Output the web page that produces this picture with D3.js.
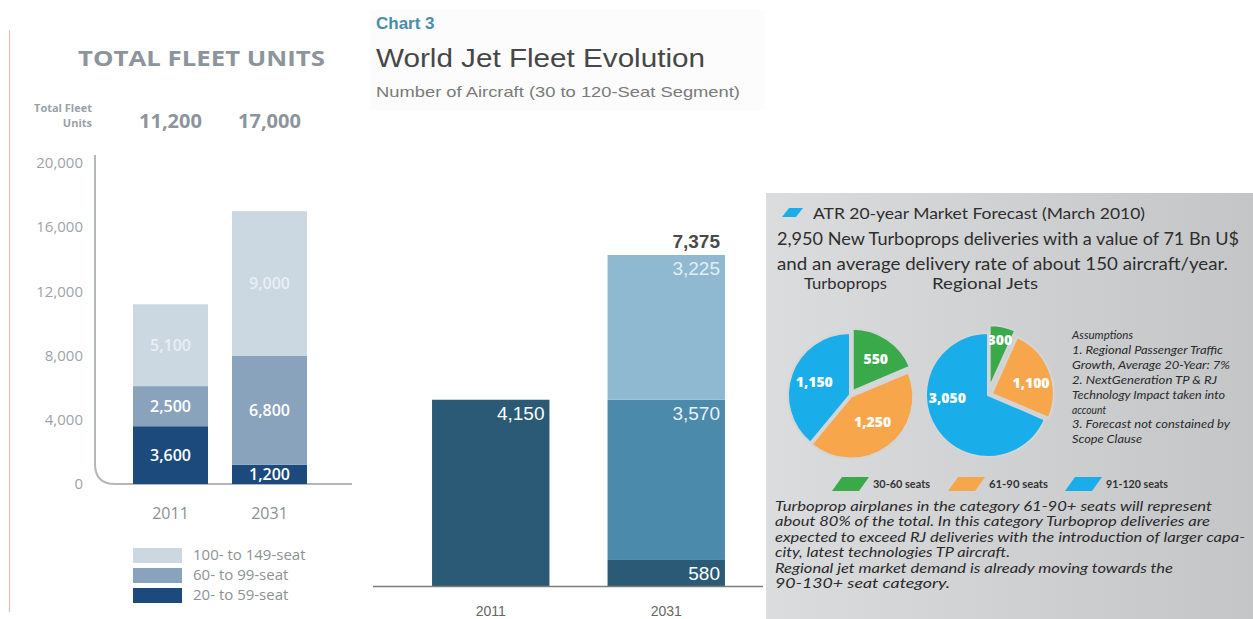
<!DOCTYPE html>
<html><head><meta charset="utf-8">
<script src="https://cdn.jsdelivr.net/npm/d3@7"></script>
<style>html,body{margin:0;padding:0;background:#fff;overflow:hidden}svg{display:block}</style>
</head><body><svg id="c" width="1253" height="619"></svg>
<script>
// ---------- Panel 1: Total fleet units ----------
const fleetYears = ["2011", "2031"];
const fleetSeries = ["20- to 59-seat", "60- to 99-seat", "100- to 149-seat"];
const fleetSmall = [3600, 1200];
const fleetMid = [2500, 6800];
const fleetLarge = [5100, 9000];
const fleetTotals = [11200, 17000];
const fleetTicks = [0, 4000, 8000, 12000, 16000, 20000];

// ---------- Panel 2: World jet fleet evolution ----------
const jetYears = ["2011", "2031"];
const jetSeries = ["lower", "mid", "upper"];
const jetLower = [4150, 580];
const jetMid = [0, 3570];
const jetUpper = [0, 3225];
const jetTotals = [null, 7375];

// ---------- Panel 3: ATR forecast pies ----------
const seatCats = ["30-60 seats", "61-90 seats", "91-120 seats"];
const turbopropValues = [550, 1250, 1150];
const regionalJetValues = [300, 1100, 3050];

const fmt = d3.format(",");
const svg = d3.select("#c");

function txt(g, x, y, s, o) {
  o = o || {};
  const t = g.append("text").attr("x", x).attr("y", y).text(s)
    .attr("font-family", o.family || "Liberation Sans, Arial, sans-serif")
    .attr("font-size", o.size || 14)
    .attr("fill", o.fill || "#333")
    .attr("text-anchor", o.anchor || "start");
  if (o.weight) t.attr("font-weight", o.weight);
  if (o.style) t.attr("font-style", o.style);
  if (o.len) t.attr("textLength", o.len).attr("lengthAdjust", "spacingAndGlyphs");
  if (o.dy) t.attr("dy", o.dy);
  return t;
}

// ================= PANEL 1 =================
(function () {
  const g = svg.append("g");
  const F = "Open Sans, Lato, sans-serif";
  g.append("line").attr("x1", 9.5).attr("x2", 9.5).attr("y1", 30).attr("y2", 612)
    .attr("stroke", "#efb9b6").attr("stroke-width", 1.2);
  txt(g, 78, 66, "TOTAL FLEET UNITS", {family: F, size: 22, weight: 700, fill: "#8d959c", len: 247});
  txt(g, 92, 112, "Total Fleet", {family: F, size: 11, weight: 700, fill: "#9aa1a7", anchor: "end"});
  txt(g, 92, 127, "Units", {family: F, size: 11, weight: 700, fill: "#9aa1a7", anchor: "end"});

  const y = d3.scaleLinear().domain([0, 20000]).range([484, 163]);
  const x = d3.scaleBand().domain(fleetYears).range([121, 319]).paddingInner(0.2424).paddingOuter(0.1212);

  // axis with rounded corner
  const p = d3.path();
  p.moveTo(95, 155);
  p.lineTo(95, y(0) - 20);
  p.quadraticCurveTo(95, y(0), 115, y(0));
  p.lineTo(352, y(0));
  g.append("path").attr("d", p.toString()).attr("fill", "none").attr("stroke", "#b4b8bc").attr("stroke-width", 2);

  g.selectAll(".tk").data(fleetTicks).join("text")
    .attr("x", 83).attr("y", d => y(d)).attr("dy", "0.35em")
    .attr("text-anchor", "end").attr("font-family", F).attr("font-size", 15)
    .attr("fill", "#9ea3a8").text(d => fmt(d));

  const table = fleetYears.map((yr, i) => ({year: yr, s: fleetSmall[i], m: fleetMid[i], l: fleetLarge[i]}));
  const keys = ["s", "m", "l"];
  const colors = {s: "#1c4a7c", m: "#8aa3bd", l: "#cbd8e2"};
  const labelColors = {s: "#ffffff", m: "#ffffff", l: "#e9eef3"};
  const stack = d3.stack().keys(keys)(table);
  stack.forEach(layer => {
    g.selectAll(null).data(layer).join("rect")
      .attr("x", d => x(d.data.year)).attr("width", x.bandwidth())
      .attr("y", d => y(d[1])).attr("height", d => y(d[0]) - y(d[1]))
      .attr("fill", colors[layer.key]);
    g.selectAll(null).data(layer).join("text")
      .attr("x", d => x(d.data.year) + x.bandwidth() / 2)
      .attr("y", d => (y(d[0]) + y(d[1])) / 2).attr("dy", "0.36em")
      .attr("text-anchor", "middle").attr("font-family", F).attr("font-size", 16).attr("font-weight", 600)
      .attr("fill", labelColors[layer.key]).text(d => fmt(d[1] - d[0]));
  });

  g.selectAll(".tot").data(fleetYears).join("text")
    .attr("x", d => x(d) + x.bandwidth() / 2).attr("y", 128).attr("text-anchor", "middle")
    .attr("font-family", F).attr("font-size", 20).attr("font-weight", 700).attr("fill", "#8d959c")
    .text((d, i) => fmt(fleetTotals[i]));
  g.selectAll(".xl").data(fleetYears).join("text")
    .attr("x", d => x(d) + x.bandwidth() / 2).attr("y", 519).attr("text-anchor", "middle")
    .attr("font-family", F).attr("font-size", 16).attr("fill", "#8c8f93").text(d => d);

  const leg = [...fleetSeries].reverse();
  const legKeys = ["l", "m", "s"];
  leg.forEach((name, i) => {
    g.append("rect").attr("x", 133).attr("y", 548 + i * 20).attr("width", 49).attr("height", 15).attr("fill", colors[legKeys[i]]);
    txt(g, 193, 560 + i * 20, name, {family: F, size: 15, fill: "#8e9195"});
  });
})();

// ================= PANEL 2 =================
(function () {
  const g = svg.append("g");
  const F = "Liberation Sans, Arial, sans-serif";
  g.append("rect").attr("x", 370).attr("y", 10).attr("width", 395).attr("height", 100).attr("fill", "#fcfcfc");
  txt(g, 376, 29, "Chart 3", {family: F, size: 17, weight: 700, fill: "#4b8cab"});
  txt(g, 376, 67, "World Jet Fleet Evolution", {family: F, size: 26, fill: "#474747", len: 329});
  txt(g, 376, 97, "Number of Aircraft (30 to 120-Seat Segment)", {family: F, size: 15, fill: "#7a7a7a", len: 364});

  const y = d3.scaleLinear().domain([0, 7375]).range([586, 255]);
  const x = d3.scaleBand().domain(jetYears).range([403, 754]).paddingInner(0.331).paddingOuter(0.1655);
  const table = jetYears.map((yr, i) => ({year: yr, lower: jetLower[i], mid: jetMid[i], upper: jetUpper[i]}));
  const colors = {lower: "#2a5a75", mid: "#4b8aab", upper: "#8fb9d0"};
  const labelColors = {lower: "#ffffff", mid: "#e8f0f4", upper: "#e3edf3"};
  const stack = d3.stack().keys(jetSeries)(table);
  stack.forEach(layer => {
    const vis = layer.filter(d => d[1] - d[0] > 0);
    g.selectAll(null).data(vis).join("rect")
      .attr("x", d => x(d.data.year)).attr("width", x.bandwidth())
      .attr("y", d => y(d[1])).attr("height", d => y(d[0]) - y(d[1]))
      .attr("fill", colors[layer.key]);
    g.selectAll(null).data(vis).join("text")
      .attr("x", d => x(d.data.year) + x.bandwidth() - 5)
      .attr("y", d => Math.min(y(d[1]) + 20, y(d[0]) - 6))
      .attr("text-anchor", "end").attr("font-family", F).attr("font-size", 19)
      .attr("fill", labelColors[layer.key]).text(d => fmt(d[1] - d[0]));
  });
  jetYears.forEach((yr, i) => {
    if (jetTotals[i] != null) {
      txt(g, x(yr) + x.bandwidth() - 5, y(jetTotals[i]) - 7, fmt(jetTotals[i]), {family: F, size: 19, weight: 700, fill: "#4a4a4a", anchor: "end"});
    }
  });
  g.append("line").attr("x1", 373).attr("x2", 763).attr("y1", y(0) + 0.5).attr("y2", y(0) + 0.5)
    .attr("stroke", "#7d7d7d").attr("stroke-width", 1.5);
  g.selectAll(".xl").data(jetYears).join("text")
    .attr("x", d => x(d) + x.bandwidth() / 2).attr("y", 616).attr("text-anchor", "middle")
    .attr("font-family", F).attr("font-size", 14).attr("fill", "#666").text(d => d);
})();

// ================= PANEL 3 =================
(function () {
  const g = svg.append("g");
  const F = "Lato, Open Sans, sans-serif";
  const defs = svg.append("defs");
  const grad = defs.append("linearGradient").attr("id", "bg3").attr("x1", "0").attr("x2", "1").attr("y1", "0").attr("y2", "0");
  grad.append("stop").attr("offset", "0").attr("stop-color", "#dbdcde");
  grad.append("stop").attr("offset", "1").attr("stop-color", "#c3c5c7");
  g.append("rect").attr("x", 766).attr("y", 193).attr("width", 487).attr("height", 426).attr("fill", "url(#bg3)");

  const catColors = ["#39a949", "#f7a64c", "#19aeea"];
  function para(x0, yTop, w, h, skew, color) {
    const p = d3.path();
    p.moveTo(x0 + skew, yTop); p.lineTo(x0 + w, yTop); p.lineTo(x0 + w - skew, yTop + h); p.lineTo(x0, yTop + h); p.closePath();
    g.append("path").attr("d", p.toString()).attr("fill", color);
  }
  para(782, 208, 21, 9, 7, catColors[2]);
  txt(g, 813, 219, "ATR 20-year Market Forecast (March 2010)", {family: F, size: 16, fill: "#2e2e2e", len: 332});
  txt(g, 777, 245, "2,950 New Turboprops deliveries with a value of 71 Bn U$", {family: F, size: 17, fill: "#2e2e2e", len: 462});
  txt(g, 777, 270, "and an average delivery rate of about 150 aircraft/year.", {family: F, size: 17, fill: "#2e2e2e", len: 451});
  txt(g, 804, 289, "Turboprops", {family: F, size: 15, fill: "#2e2e2e", len: 83});
  txt(g, 932, 289, "Regional Jets", {family: F, size: 15, fill: "#2e2e2e", len: 106});

  const r = 62;
  const arc = d3.arc().innerRadius(0).outerRadius(r);
  const pie = d3.pie().sort(null).value(d => d.v);
  function drawPie(values, cx, cy, explode, labelR, labelShift) {
    const data = pie(values.map((v, i) => ({v, i})));
    const pg = g.append("g").attr("transform", `translate(${cx},${cy})`);
    data.forEach((d, i) => {
      const a = (d.startAngle + d.endAngle) / 2;
      const ox = Math.sin(a) * explode[i], oy = -Math.cos(a) * explode[i];
      const sg = pg.append("g").attr("transform", `translate(${ox},${oy})`);
      sg.append("path").attr("d", arc(d)).attr("fill", catColors[i])
        .attr("stroke", "#d4d5d7").attr("stroke-width", 2);
      const la = d3.arc().innerRadius(labelR[i]).outerRadius(labelR[i]).centroid(d);
      sg.append("text").attr("x", la[0] + labelShift[i][0]).attr("y", la[1] + labelShift[i][1]).attr("dy", "0.36em")
        .attr("text-anchor", "middle").attr("font-family", "Open Sans, sans-serif").attr("font-weight", 800)
        .attr("font-size", 14).attr("fill", "#fff").text(fmt(d.data.v));
    });
  }
  drawPie(turbopropValues, 850, 395, [5, 2, 0], [38, 36, 38], [[2, 0], [0, -4], [0, 0]]);
  drawPie(regionalJetValues, 988, 395, [8, 4, 0], [48, 40, 38], [[0, 0], [2, 4], [-9, -18]]);

  const assum = ["Assumptions", "1. Regional Passenger Traffic", "Growth, Average 20-Year: 7%", "2. NextGeneration TP & RJ",
    "Technology Impact taken into", "account", "3. Forecast not constained by", "Scope Clause"];
  const assumW = [61, 151, 158, 145, 153, 34, 158, 70];
  assum.forEach((s, i) => txt(g, 1072, 339 + i * 14.9, s, {family: F, size: 12, style: "italic", fill: "#2a2a2a", len: assumW[i]}));

  const legX = [832, 948, 1065];
  const legTW = [57, 59, 62];
  seatCats.forEach((s, i) => {
    para(legX[i], 477, 37, 14, 10, catColors[i]);
    txt(g, legX[i] + 41, 488, s, {family: F, size: 11, weight: 700, fill: "#333", len: legTW[i]});
  });

  const parLines = [
    "Turboprop airplanes in the category 61-90+ seats will represent",
    "about 80% of the total. In this category Turboprop deliveries are",
    "expected to exceed RJ deliveries with the introduction of larger capa-",
    "city, latest technologies TP aircraft.",
    "Regional jet market demand is already moving towards the",
    "90-130+ seat category."
  ];
  const parW = [437, 435, 470, 235, 398, 175];
  parLines.forEach((s, i) => txt(g, 775, 511 + i * 15.4, s, {family: F, size: 13, style: "italic", fill: "#2a2a2a", len: parW[i]}));
})();
</script></body></html>
